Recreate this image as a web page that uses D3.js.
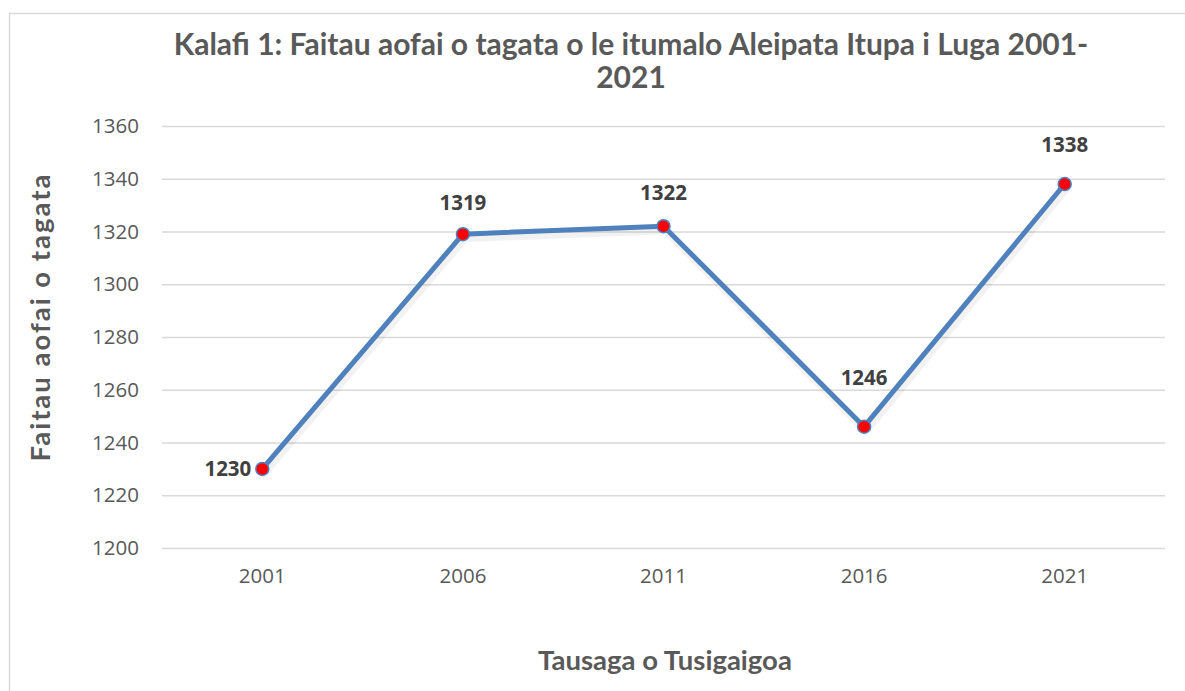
<!DOCTYPE html>
<html>
<head>
<meta charset="utf-8">
<script src="https://cdn.jsdelivr.net/npm/d3@7"></script>
<style>
  body { margin: 0; background: #fff; }
  svg { display: block; font-family: Lato, "Open Sans", sans-serif; }
</style>
</head>
<body>
<svg></svg>
<script>
var years = ["2001", "2006", "2011", "2016", "2021"]
var population = [1230, 1319, 1322, 1246, 1338]
var yTicks = [1200, 1220, 1240, 1260, 1280, 1300, 1320, 1340, 1360]
var titleLines = ["Kalafi 1: Faitau aofai o tagata o le itumalo Aleipata Itupa i Luga 2001-", "2021"]
var xTitle = "Tausaga o Tusigaigoa"
var yTitle = "Faitau aofai o tagata"

var screen = { width: 1185, height: 691 }
var margins = { left: 162, right: 20, top: 126, bottom: 143 }

var graph = {
    width: 1165 - margins.left,
    height: 548 - margins.top
}

var svg = d3.select("svg")
    .attr("width", screen.width)
    .attr("height", screen.height)

// chart border
svg.append("rect")
    .attr("x", 9.5)
    .attr("y", 13.5)
    .attr("width", 1190)
    .attr("height", 700)
    .attr("fill", "none")
    .attr("stroke", "#d9d9d9")
    .attr("stroke-width", 1.5)

var xScale = d3.scaleBand()
    .domain(years)
    .range([0, graph.width])

var yScale = d3.scaleLinear()
    .domain([1200, 1360])
    .range([graph.height, 0])

var target = svg.append("g")
    .attr("transform", "translate(" + margins.left + "," + margins.top + ")")

// gridlines + y labels
var yAxis = d3.axisLeft(yScale)
    .tickValues(yTicks)
    .tickSize(-graph.width)
    .tickPadding(23)
    .tickFormat(d3.format("d"))

var yg = target.append("g").call(yAxis)
yg.select(".domain").remove()
yg.selectAll("line").attr("stroke", "#d9d9d9").attr("stroke-width", 1.5)
yg.selectAll("text")
    .attr("fill", "#595959")
    .style("font-size", "20.5px")
    .style("font-family", "'Open Sans', sans-serif")

var xAxis = d3.axisBottom(xScale)
    .tickSize(0)
    .tickPadding(20)

var xg = target.append("g")
    .attr("transform", "translate(0," + graph.height + ")")
    .call(xAxis)
xg.select(".domain").remove()
xg.selectAll("text")
    .attr("fill", "#595959")
    .style("font-size", "20.5px")
    .style("font-family", "'Open Sans', sans-serif")

var points = years.map(function (y, i) {
    return { year: y, value: population[i] }
})

var lineGenerator = d3.line()
    .x(function (d) { return xScale(d.year) + xScale.bandwidth() / 2 })
    .y(function (d) { return yScale(d.value) })

// soft shadow
target.append("path")
    .datum(points)
    .attr("d", lineGenerator)
    .attr("fill", "none")
    .attr("stroke", "#000")
    .attr("stroke-opacity", 0.05)
    .attr("stroke-width", 8)
    .attr("transform", "translate(2,4)")

target.append("path")
    .datum(points)
    .attr("d", lineGenerator)
    .attr("fill", "none")
    .attr("stroke", "#4f81bd")
    .attr("stroke-width", 5)
    .attr("stroke-linejoin", "round")

target.selectAll("circle")
    .data(points)
    .enter()
    .append("circle")
    .attr("cx", function (d) { return xScale(d.year) + xScale.bandwidth() / 2 })
    .attr("cy", function (d) { return yScale(d.value) })
    .attr("r", 6.5)
    .attr("fill", "#ff0000")
    .attr("stroke", "#4f81bd")
    .attr("stroke-width", 1.5)

// labels were nudged by hand in the original, so a little extra lift per point
var labelLift = [0, 0, 2, 18, 8]

target.selectAll(".dlabel")
    .data(points)
    .enter()
    .append("text")
    .classed("dlabel", true)
    .text(function (d) { return d.value })
    .attr("x", function (d, i) {
        var cx = xScale(d.year) + xScale.bandwidth() / 2
        return i == 0 ? cx - 11 : cx
    })
    .attr("y", function (d, i) {
        var cy = yScale(d.value)
        return i == 0 ? cy + 7 : cy - 24 - labelLift[i]
    })
    .attr("text-anchor", function (d, i) { return i == 0 ? "end" : "middle" })
    .attr("fill", "#404040")
    .style("font-size", "20.5px")
    .style("font-weight", "bold")
    .style("font-family", "'Open Sans', sans-serif")

// title
var title = svg.append("text")
    .attr("text-anchor", "middle")
    .attr("fill", "#595959")
    .style("font-size", "30px")
    .style("font-weight", "bold")

title.selectAll("tspan")
    .data(titleLines)
    .enter()
    .append("tspan")
    .attr("x", 631)
    .attr("y", function (d, i) { return 55 + i * 33 })
    .text(function (d) { return d })

svg.append("text")
    .text(xTitle)
    .attr("text-anchor", "middle")
    .attr("x", 665)
    .attr("y", 670)
    .attr("fill", "#595959")
    .style("font-size", "27.5px")
    .style("font-weight", "bold")

svg.append("g")
    .attr("transform", "translate(50,317)")
    .append("text")
    .text(yTitle)
    .attr("text-anchor", "middle")
    .attr("transform", "rotate(-90)")
    .attr("fill", "#595959")
    .style("font-size", "27.5px")
    .style("font-weight", "bold")
    .style("letter-spacing", "2px")
</script>
</body>
</html>
